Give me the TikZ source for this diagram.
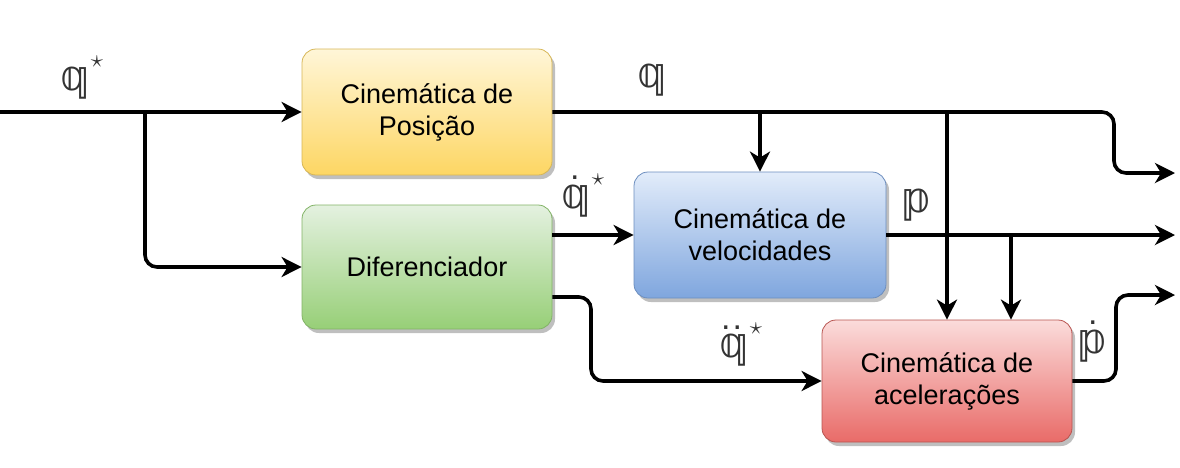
\documentclass[tikz,border=0pt]{standalone}
\usepackage{amsmath}
\usepackage{fontspec}
\setmainfont{Liberation Sans}
\newfontfamily\dsfont{DejaVu Sans}
\usetikzlibrary{arrows.meta,shadows,calc}
\definecolor{yelT}{HTML}{FFF6D8}
\definecolor{yelB}{HTML}{FDD663}
\definecolor{yelD}{HTML}{D6B656}
\definecolor{greT}{HTML}{E4F1E0}
\definecolor{greB}{HTML}{97CF77}
\definecolor{greD}{HTML}{82B366}
\definecolor{bluT}{HTML}{E2ECFA}
\definecolor{bluB}{HTML}{7FA6DE}
\definecolor{bluD}{HTML}{6C8EBF}
\definecolor{redT}{HTML}{FBDCDB}
\definecolor{redB}{HTML}{E96B68}
\definecolor{redD}{HTML}{B85450}
\definecolor{lblgray}{HTML}{333333}
\tikzset{
  blk/.style={rounded corners=14pt, minimum width=250pt, minimum height=126pt,
    align=center, font=\fontsize{27}{32}\selectfont, line width=0.8pt,
    drop shadow={shadow xshift=3pt, shadow yshift=-4pt, opacity=0.25, fill=black}},
  yelbox/.style={blk, draw=yelD, top color=yelT, bottom color=yelB},
  grebox/.style={blk, draw=greD, top color=greT, bottom color=greB},
  blubox/.style={blk, draw=bluD, top color=bluT, bottom color=bluB},
  redbox/.style={blk, draw=redD, top color=redT, bottom color=redB},
  wire/.style={line width=3.6pt, rounded corners=12pt,
    -{Stealth[length=20pt,width=20pt,inset=6pt]}},
  lbl/.style={text=lblgray, font=\fontsize{42}{46}\selectfont, inner sep=0pt, anchor=base west}
}
\newcommand{\dsq}{{\dsfont 𝕢}}
\newcommand{\dsp}{{\dsfont 𝕡}}
\newcommand{\sstar}{\rlap{\hspace{1pt}\raisebox{23pt}{\fontsize{34}{34}\selectfont$\star$}}}
\newcommand{\onedot}[1]{\rlap{\hspace{#1}\raisebox{29pt}{\fontsize{34}{34}\selectfont .}}}
\newcommand{\twodots}{\rlap{\hspace{2pt}\raisebox{28pt}{\fontsize{34}{34}\selectfont .\hspace{2pt}.}}}
\begin{document}
\begin{tikzpicture}[x=1pt,y=-1pt]
\useasboundingbox (0,0) rectangle (1180,467);
\node[yelbox] (yel) at (427,112) {Cinemática de\\Posição};
\node[grebox, minimum height=124pt] (gre) at (427,267) {Diferenciador};
\node[blubox, minimum width=252pt] (blu) at (760,235) {Cinemática de\\velocidades};
\node[redbox, minimum height=122pt] (red) at (947,381) {Cinemática de\\acelerações};

\coordinate (in) at (0,112);
\coordinate (b1) at (145,112);
\coordinate (out1) at (1175,173);
\coordinate (out2) at (1175,235);
\coordinate (out3) at (1175,295);
\coordinate (bq1) at (760,112);
\coordinate (bq2) at (947,112);
\coordinate (bp) at (1011,235);
\coordinate (gu) at ($(gre.east)+(0,-32)$);
\coordinate (gl) at ($(gre.east)+(0,30)$);
\coordinate (rt) at ($(red.north)+(64,0)$);

\draw[wire] (in) -- (yel.west);
\draw[wire] (b1) -- (145,267) -- (gre.west);
\draw[wire] (yel.east) -- (1114,112) -- (1114,173) -- (out1);
\draw[wire] (bq1) -- (blu.north);
\draw[wire] (bq2) -- (red.north);
\draw[wire] (gu) -- (gu -| blu.west);
\draw[wire] (blu.east) -- (out2);
\draw[wire] (bp) -- (rt);
\draw[wire] (gl) -- (591,297) -- (591,381) -- (red.west);
\draw[wire] (red.east) -- (1116,381) -- (1116,295) -- (out3);

\node[lbl] (lq0) at (60,90) {\dsq\sstar};
\node[lbl] (lq) at (637,87) {\dsq};
\node[lbl] (lq1) at (561,208) {\onedot{9pt}\dsq\sstar};
\node[lbl] (lp) at (902,212) {\dsp};
\node[lbl] (lq2) at (719,357) {\twodots\dsq\sstar};
\node[lbl] (lp1) at (1078,353) {\onedot{10pt}\dsp};
\end{tikzpicture}
\end{document}
